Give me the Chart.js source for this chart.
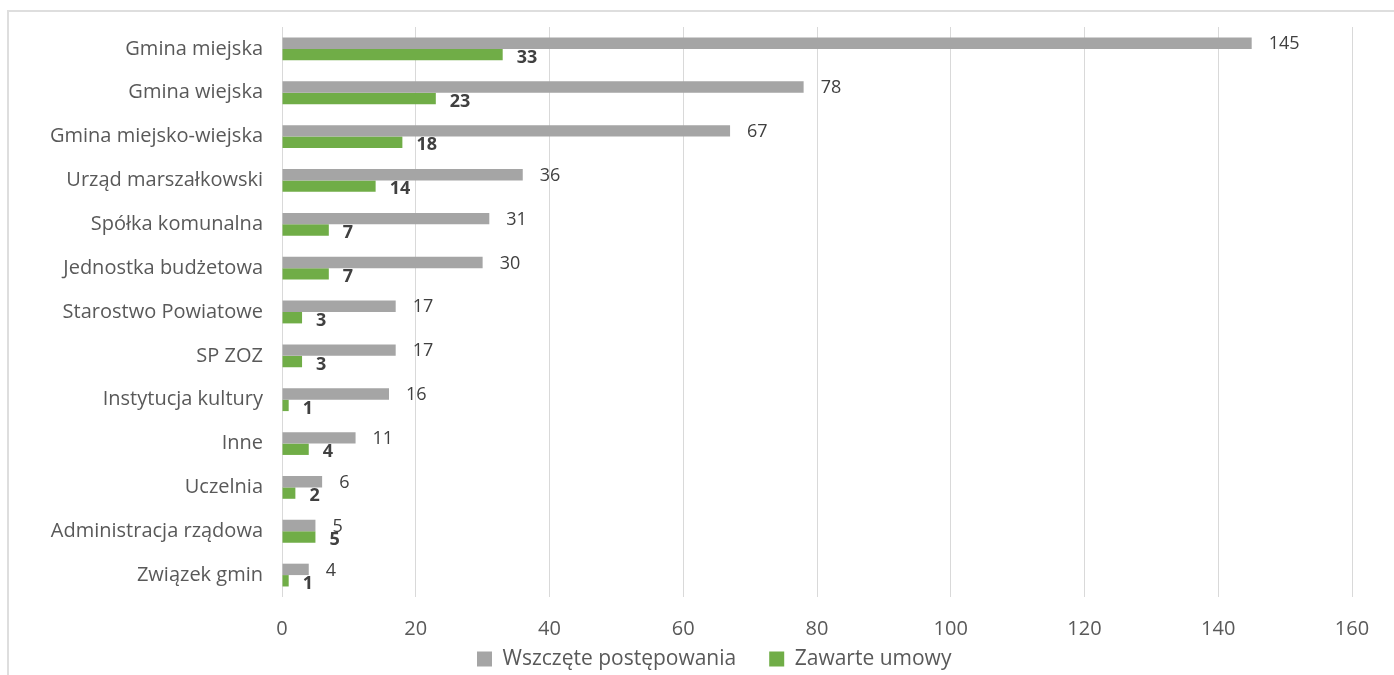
<!DOCTYPE html>
<html>
<head>
<meta charset="utf-8">
<script src="https://cdn.jsdelivr.net/npm/chart.js@4/dist/chart.umd.min.js"></script>
<style>
  html, body { margin: 0; padding: 0; background: #fff; overflow: hidden; }
  #frame { position: absolute; left: 7px; top: 10px; width: 1500px; height: 800px;
           border-left: 2px solid #dedede; border-top: 2px solid #dedede; }
  #wrap { position: absolute; left: 0; top: 0; width: 1394px; height: 675px; }
</style>
</head>
<body>
<div id="frame"></div>
<div id="wrap"><canvas id="c" width="1394" height="675"></canvas></div>
<script>
const categories = [
  'Gmina miejska', 'Gmina wiejska', 'Gmina miejsko-wiejska', 'Urząd marszałkowski',
  'Spółka komunalna', 'Jednostka budżetowa', 'Starostwo Powiatowe', 'SP ZOZ',
  'Instytucja kultury', 'Inne', 'Uczelnia', 'Administracja rządowa', 'Związek gmin'
];
const wszczete = [145, 78, 67, 36, 31, 30, 17, 17, 16, 11, 6, 5, 4];
const zawarte  = [33, 23, 18, 14, 7, 7, 3, 3, 1, 4, 2, 5, 1];
const xTicks = [0, 20, 40, 60, 80, 100, 120, 140, 160];
const seriesNames = ['Wszczęte postępowania', 'Zawarte umowy'];

const FONT = "'Open Sans', 'Noto Sans', sans-serif";

const valueLabels = {
  id: 'valueLabels',
  afterDatasetsDraw(chart) {
    const ctx = chart.ctx;
    ctx.save();
    ctx.textBaseline = 'middle';
    ctx.textAlign = 'left';
    ctx.fillStyle = '#404040';
    chart.data.datasets.forEach((ds, i) => {
      const meta = chart.getDatasetMeta(i);
      meta.data.forEach((el, j) => {
        const v = ds.data[j];
        if (i === 0) {
          ctx.font = "18px " + FONT;
          ctx.fillText(String(v), el.x + 17, el.y + 1);
        } else {
          ctx.font = "bold 18px " + FONT;
          ctx.fillText(String(v), el.x + 14, el.y + 3);
        }
      });
    });
    ctx.restore();
  }
};

const legendPlace = {
  id: 'legendPlace',
  beforeInit(chart) {
    const lg = chart.legend;
    if (lg) {
      const orig = lg.fit;
      lg.fit = function () { orig.call(this); this.height = 31; };
    }
  },
  afterLayout(chart) {
    const lg = chart.legend;
    if (lg) {
      lg.top = 615.5;
      lg.bottom = 675;
      const p = lg.options.labels.padding;
      const lw = lg.lineWidths ? lg.lineWidths[0] : 0;
      const x0 = (lg.left + p + lg.right - lw) / 2;
      const d = 477 - x0;
      lg.left += d;
      lg.right += d;
    }
  }
};

new Chart(document.getElementById('c'), {
  type: 'bar',
  data: {
    labels: categories,
    datasets: [
      { label: seriesNames[0], data: wszczete, backgroundColor: '#A5A5A5',
        categoryPercentage: 0.52, barPercentage: 1.0 },
      { label: seriesNames[1], data: zawarte, backgroundColor: '#70AD47',
        categoryPercentage: 0.52, barPercentage: 1.0 }
    ]
  },
  options: {
    indexAxis: 'y',
    responsive: false,
    animation: false,
    layout: { padding: { top: 27, right: 42, bottom: 0, left: 0 } },
    scales: {
      x: {
        min: 0, max: 160,
        afterBuildTicks(scale) { scale.ticks = xTicks.map(v => ({ value: v })); },
        grid: { color: '#d9d9d9', lineWidth: 1, drawTicks: false },
        border: { display: false },
        ticks: { color: '#595959', font: { family: FONT, size: 20 }, padding: 20, autoSkip: false, maxRotation: 0 },
        afterFit(scale) { scale.height = 47; }
      },
      y: {
        grid: { display: false, drawTicks: false },
        border: { display: false },
        ticks: { color: '#595959', font: { family: FONT, size: 20 }, padding: 19 },
        afterFit(scale) { scale.width = 282; scale.paddingTop = 0; scale.paddingBottom = 0; }
      }
    },
    plugins: {
      legend: {
        position: 'bottom',
        labels: {
          color: '#595959',
          font: { family: FONT, size: 21 },
          boxWidth: 15, boxHeight: 15, padding: 33
        }
      },
      tooltip: { enabled: false }
    }
  },
  plugins: [valueLabels, legendPlace]
});
</script>
</body>
</html>
